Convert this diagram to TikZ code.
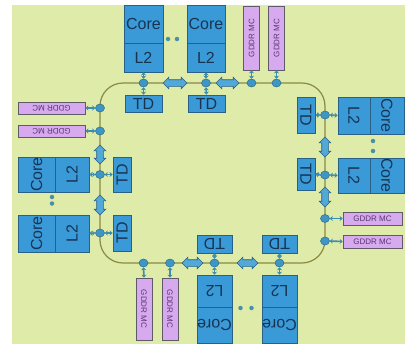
\documentclass[tikz,border=0pt]{standalone}
\usepackage{fontspec}
\setmainfont{Liberation Sans}
\usetikzlibrary{arrows.meta,shapes.geometric,shapes.arrows}
\definecolor{bgc}{HTML}{DFEBA9}
\definecolor{bluef}{HTML}{3A9AD8}
\definecolor{bluebd}{HTML}{2A5F86}
\definecolor{txtc}{HTML}{173452}
\definecolor{purpf}{HTML}{D7A9EE}
\definecolor{gbd}{HTML}{5E5A66}
\definecolor{gtxt}{HTML}{5A3870}
\definecolor{ovf}{HTML}{3E96C4}
\definecolor{ovbd}{HTML}{2A6A90}
\definecolor{fatf}{HTML}{52A8D6}
\definecolor{conc}{HTML}{3C8DAE}
\definecolor{dotf}{HTML}{4A8FA8}
\definecolor{ringc}{HTML}{8A8A42}
\begin{document}
\begin{tikzpicture}[x=1pt,y=-1pt,
  box/.style={draw=bluebd, fill=bluef, line width=0.7pt, inner sep=0pt, text=txtc, font=\fontsize{16}{16}\selectfont},
  gddr/.style={draw=gbd, fill=purpf, line width=0.7pt, inner sep=0pt, text=gtxt, font=\fontsize{8}{8}\selectfont},
  oval/.style={ellipse, draw=ovbd, fill=ovf, minimum width=9pt, minimum height=8pt, inner sep=0pt, line width=0.5pt},
  fat/.style={double arrow, draw=bluebd, fill=fatf, inner xsep=0pt, inner ysep=3pt, text height=0pt, text depth=0pt, double arrow head extend=2.5pt, double arrow head indent=0pt, line width=0.6pt},
  conn/.style={{Stealth[length=3pt,width=5pt]}-{Stealth[length=3pt,width=5pt]}, line width=1.6pt, draw=conc},
  dotc/.style={circle, fill=dotf, minimum size=4.5pt, inner sep=0pt},
  ring/.style={draw=ringc, line width=1.2pt}]
\useasboundingbox (0,0) rectangle (405,346);
\fill[bgc] (12,5) rectangle (405,344);
\draw[ring, rounded corners=23pt] (100,83) rectangle (325,263);

% ---------- top ----------
\node[box, minimum width=39pt, minimum height=38pt] (tc1) at (143.5,24) {Core};
\node[box, minimum width=39pt, minimum height=29pt] (tl1) at (143.5,57.5) {L2};
\node[box, minimum width=38pt, minimum height=38pt] (tc2) at (206,24) {Core};
\node[box, minimum width=38pt, minimum height=29pt] (tl2) at (206,57.5) {L2};
\node[dotc] (td1) at (168,39) {};
\node[dotc] (td2) at (177,39) {};
\node[gddr, minimum width=16pt, minimum height=64pt] (tg1) at (251.5,38) {\rotatebox{90}{GDDR MC}};
\node[gddr, minimum width=16pt, minimum height=64pt] (tg2) at (276.5,38) {\rotatebox{90}{GDDR MC}};
\node[box, minimum width=37pt, minimum height=17pt] (tt1) at (143.5,103.5) {TD};
\node[box, minimum width=37pt, minimum height=17pt] (tt2) at (206.5,103.5) {TD};
\node[oval] (to1) at (143.5,83) {};
\node[oval] (to2) at (206,83) {};
\node[oval] (tog1) at (251.5,83) {};
\node[oval] (tog2) at (276.5,83) {};
\node[fat, minimum height=24pt] (tf1) at (175,83) {};
\node[fat, minimum height=23pt] (tf2) at (227.5,83) {};
\draw[conn] (tl1.south) -- (to1.north);
\draw[conn] (to1.south) -- (tt1.north);
\draw[conn] (tl2.south) -- (to2.north);
\draw[conn] (to2.south) -- (tt2.north);
\draw[conn] (tg1.south) -- (tog1.north);
\draw[conn] (tg2.south) -- (tog2.north);

% ---------- left ----------
\node[gddr, minimum width=67pt, minimum height=12pt] (lg1) at (51.5,108) {\rotatebox{180}{GDDR MC}};
\node[gddr, minimum width=67pt, minimum height=12pt] (lg2) at (51.5,131) {\rotatebox{180}{GDDR MC}};
\node[oval] (log1) at (100,108) {};
\node[oval] (log2) at (100,131) {};
\node[fat, minimum height=19pt, rotate=90] (lf1) at (100,154.5) {};
\node[box, minimum width=37pt, minimum height=35pt] (lc1) at (36.5,174.5) {\rotatebox{90}{Core}};
\node[box, minimum width=34pt, minimum height=35pt] (ll1) at (72,174.5) {\rotatebox{90}{L2}};
\node[box, minimum width=18pt, minimum height=35pt] (lt1) at (122,174.5) {\rotatebox{90}{TD}};
\node[oval] (lo1) at (100,174.5) {};
\node[dotc] (ld1) at (52,197) {};
\node[dotc] (ld2) at (52,203.5) {};
\node[fat, minimum height=20pt, rotate=90] (lf2) at (100,205) {};
\node[box, minimum width=37pt, minimum height=37pt] (lc2) at (36.5,233.5) {\rotatebox{90}{Core}};
\node[box, minimum width=34pt, minimum height=37pt] (ll2) at (72,233.5) {\rotatebox{90}{L2}};
\node[box, minimum width=18pt, minimum height=36pt] (lt2) at (122,233) {\rotatebox{90}{TD}};
\node[oval] (lo2) at (100,233) {};
\draw[conn] (lg1.east) -- (log1.west);
\draw[conn] (lg2.east) -- (log2.west);
\draw[conn] (ll1.east) -- (lo1.west);
\draw[conn] (lo1.east) -- (lt1.west);
\draw[conn] (ll2.east) -- (lo2.west);
\draw[conn] (lo2.east) -- (lt2.west);

% ---------- bottom ----------
\node[oval] (bog1) at (143.5,263) {};
\node[oval] (bog2) at (170,263) {};
\node[oval] (bo1) at (214.5,263) {};
\node[oval] (bo2) at (279.5,263) {};
\node[gddr, minimum width=16pt, minimum height=62pt] (bg1) at (144,309) {\rotatebox{-90}{GDDR MC}};
\node[gddr, minimum width=16pt, minimum height=62pt] (bg2) at (170,309) {\rotatebox{-90}{GDDR MC}};
\node[fat, minimum height=21pt] (bf1) at (192.5,263) {};
\node[fat, minimum height=21pt] (bf2) at (247.5,263) {};
\node[box, minimum width=35pt, minimum height=18pt] (bt1) at (214.5,244) {\rotatebox{180}{TD}};
\node[box, minimum width=35pt, minimum height=18pt] (bt2) at (279.5,244) {\rotatebox{180}{TD}};
\node[box, minimum width=35pt, minimum height=32pt] (bl1) at (214.5,291) {\rotatebox{180}{L2}};
\node[box, minimum width=35pt, minimum height=36pt] (bc1) at (214.5,325) {\rotatebox{180}{Core}};
\node[box, minimum width=35pt, minimum height=32pt] (bl2) at (279.5,291) {\rotatebox{180}{L2}};
\node[box, minimum width=35pt, minimum height=36pt] (bc2) at (279.5,325) {\rotatebox{180}{Core}};
\node[dotc] (bd1) at (240.5,308) {};
\node[dotc] (bd2) at (251.5,308) {};
\draw[conn] (bog1.south) -- (bg1.north);
\draw[conn] (bog2.south) -- (bg2.north);
\draw[conn] (bt1.south) -- (bo1.north);
\draw[conn] (bo1.south) -- (bl1.north);
\draw[conn] (bt2.south) -- (bo2.north);
\draw[conn] (bo2.south) -- (bl2.north);

% ---------- right ----------
\node[box, minimum width=18pt, minimum height=36pt] (rt1) at (306,115) {\rotatebox{-90}{TD}};
\node[box, minimum width=32pt, minimum height=37pt] (rl1) at (354,115.5) {\rotatebox{-90}{L2}};
\node[box, minimum width=34pt, minimum height=37pt] (rc1) at (387,115.5) {\rotatebox{-90}{Core}};
\node[oval] (ro1) at (325,115) {};
\node[fat, minimum height=20pt, rotate=90] (rf1) at (325,147) {};
\node[dotc] (rd1) at (373,141) {};
\node[dotc] (rd2) at (373,151) {};
\node[box, minimum width=18pt, minimum height=32pt] (rt2) at (306,174) {\rotatebox{-90}{TD}};
\node[box, minimum width=32pt, minimum height=35pt] (rl2) at (354,175.5) {\rotatebox{-90}{L2}};
\node[box, minimum width=34pt, minimum height=35pt] (rc2) at (387,175.5) {\rotatebox{-90}{Core}};
\node[oval] (ro2) at (325,175) {};
\node[fat, minimum height=20pt, rotate=90] (rf2) at (325,197) {};
\node[oval] (rog1) at (325,218.5) {};
\node[oval] (rog2) at (325,241) {};
\node[gddr, minimum width=59pt, minimum height=13pt] (rg1) at (372.5,218.5) {GDDR MC};
\node[gddr, minimum width=59pt, minimum height=13pt] (rg2) at (372.5,241.5) {GDDR MC};
\draw[conn] (rt1.east) -- (ro1.west);
\draw[conn] (ro1.east) -- (rl1.west);
\draw[conn] (rt2.east) -- (ro2.west);
\draw[conn] (ro2.east) -- (rl2.west);
\draw[conn] (rog1.east) -- (rg1.west);
\draw[conn] (rog2.east) -- (rg2.west);
\end{tikzpicture}
\end{document}
